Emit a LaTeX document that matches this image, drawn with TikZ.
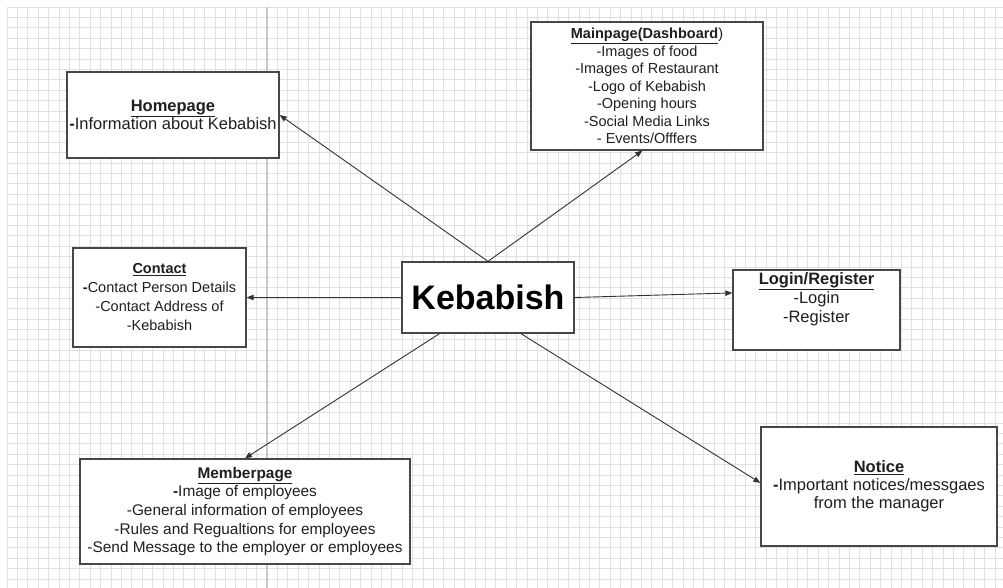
\documentclass[tikz,border=0pt]{standalone}
\usepackage{fontspec}
\setmainfont{Liberation Sans}
\usetikzlibrary{arrows.meta,calc}
\newcommand\boxtitle[1]{\textbf{\underline{#1}}}
\begin{document}
\begin{tikzpicture}[x=1pt,y=-1pt,
  gridline/.style={draw=black!12,line width=0.7pt},
  pageline/.style={draw=black!22,line width=1.4pt},
  box/.style={draw=black!72,line width=1.3pt,fill=white,inner sep=0pt,align=center,text=black!88},
  link/.style={draw=black!80,line width=0.9pt,-{Triangle[length=7pt,width=5.5pt]}},
]
\useasboundingbox (0,0) rectangle (1003,588);
\fill[white] (0,0) rectangle (1003,588);
% background grid
\foreach \i in {0,...,95} \draw[gridline] (7+10.4*\i,7) -- (7+10.4*\i,588);
\foreach \j in {0,...,55} \draw[gridline] (7,7+10.4*\j) -- (1003,7+10.4*\j);
\draw[pageline] (267,7) -- (267,588);

% boxes
\node[box,minimum width=212pt,minimum height=86pt,font=\fontsize{16.5}{18.3}\selectfont] (home) at (173,115)
  {\boxtitle{Homepage}\\\textbf{-}Information about Kebabish};
\node[box,minimum width=232pt,minimum height=128pt,font=\fontsize{14.5}{17.5}\selectfont] (main) at (647,86)
  {\textbf{\underline{Mainpage(Dashboard}})\\-Images of food\\-Images of Restaurant\\-Logo of Kebabish\\-Opening hours\\-Social Media Links\\- Events/Offfers};
\node[box,minimum width=173pt,minimum height=99pt,font=\fontsize{14.5}{19}\selectfont] (contact) at (159.5,297.5)
  {\boxtitle{Contact}\\\textbf{-}Contact Person Details\\-Contact Address of\\-Kebabish};
\node[box,minimum width=172pt,minimum height=71pt,font=\fontsize{34}{40}\selectfont\bfseries,text=black] (keb) at (488,297.5)
  {Kebabish};
\node[box,minimum width=167pt,minimum height=80pt] (login) at (816.5,310) {};
\node[inner sep=0pt,align=center,text=black!88,font=\fontsize{16.5}{19}\selectfont,anchor=north] (logintext) at (816.5,272)
  {\boxtitle{Login/Register}\\-Login\\-Register};
\node[box,minimum width=330pt,minimum height=105pt,font=\fontsize{15.4}{18.7}\selectfont] (member) at (245,511.5)
  {\boxtitle{Memberpage}\\\textbf{-}Image of employees\\-General information of employees\\-Rules and Regualtions for employees\\-Send Message to the employer or employees};
\node[box,minimum width=236pt,minimum height=119pt,font=\fontsize{16.5}{18}\selectfont] (notice) at (879,486.5)
  {\boxtitle{Notice}\\\textbf{-}Important notices/messgaes\\from the manager};

% connectors
\draw[link] (keb.north) -- (home.east);
\draw[link] (keb.north) -- ($(main.south west)!0.48!(main.south east)$);
\draw[link] (keb.west) -- (contact.east);
\draw[link] (keb.east) -- ($(login.north west)!0.29!(login.south west)$);
\draw[link] ($(keb.south west)!0.22!(keb.south east)$) -- (member.north);
\draw[link] ($(keb.south west)!0.69!(keb.south east)$) -- ($(notice.north west)!0.47!(notice.south west)$);
\end{tikzpicture}
\end{document}
